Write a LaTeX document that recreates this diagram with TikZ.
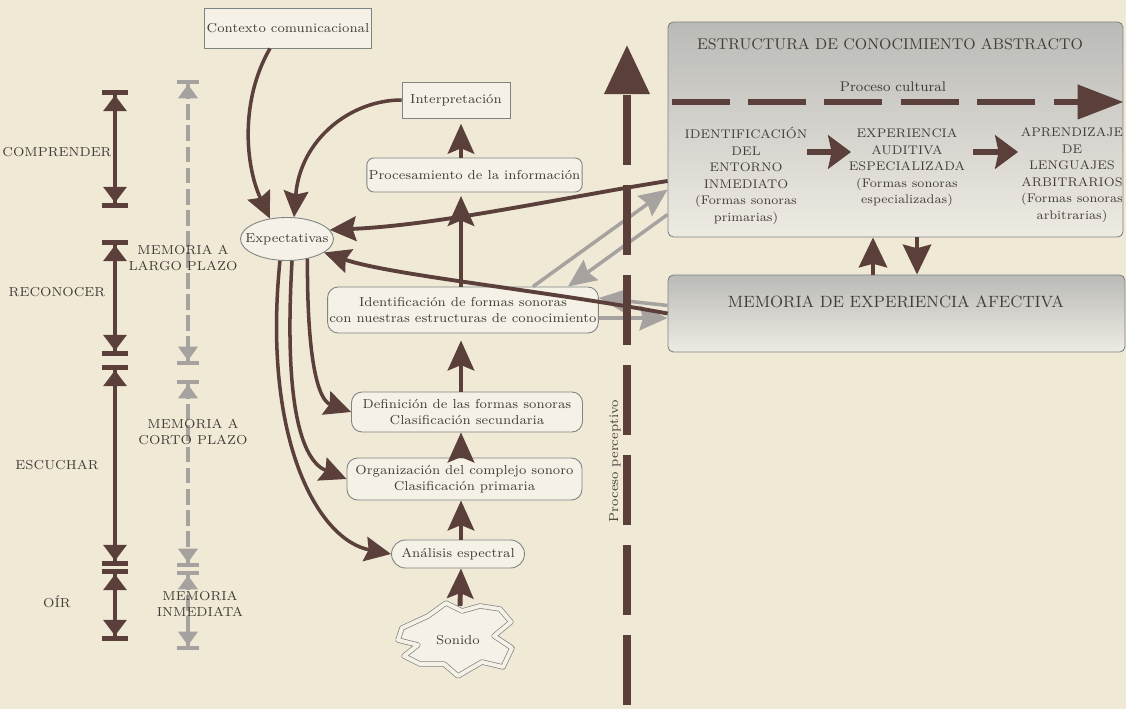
\documentclass[tikz,border=0pt]{standalone}
\usepackage{tikz}
\usetikzlibrary{arrows.meta,shapes.geometric}

\definecolor{paper}{RGB}{240,233,214}
\definecolor{boxfill}{RGB}{245,241,230}
\definecolor{boxline}{RGB}{125,132,132}
\definecolor{brownarr}{RGB}{90,63,59}
\definecolor{grayarr}{RGB}{166,162,159}
\definecolor{inktext}{RGB}{66,60,56}
\definecolor{shadetop}{RGB}{186,186,183}
\definecolor{shadebot}{RGB}{238,235,226}

\tikzset{
  txt/.style={text=inktext, font=\fontsize{7.4}{9.4}\selectfont, align=center, inner sep=1pt},
  coltxt/.style={txt, font=\fontsize{7.1}{9.4}\selectfont},
  bigcap/.style={txt, font=\fontsize{8.8}{10}\selectfont},
  plainbox/.style={txt, draw=boxline, fill=boxfill, line width=0.5pt},
  roundbox/.style={plainbox, rounded corners=6pt},
  shadebox/.style={draw=boxline, line width=0.5pt, rounded corners=3pt, top color=shadetop, bottom color=shadebot},
  upflow/.style={draw=brownarr, line width=2.8pt, -{Stealth[length=17pt,width=15pt,inset=3pt]}},
  stepflow/.style={draw=brownarr, line width=3.2pt, -{Stealth[length=13pt,width=19pt,inset=2pt]}},
  feedback/.style={draw=brownarr, line width=2pt, -{Stealth[length=15pt,width=14pt,inset=2pt]}},
  grayflow/.style={draw=grayarr, line width=2pt, -{Stealth[length=16pt,width=14pt,inset=2pt]}},
  stage/.style={draw=brownarr, line width=2pt,
    {Bar[width=15pt,line width=3pt]Triangle[length=9pt,width=13pt]}-{Triangle[length=9pt,width=13pt]Bar[width=15pt,line width=3pt]}},
  memspan/.style={draw=grayarr, line width=1.8pt, dash pattern=on 9pt off 3pt,
    {Bar[width=13pt,line width=2.5pt]Triangle[length=8pt,width=11pt]}-{Triangle[length=8pt,width=11pt]Bar[width=13pt,line width=2.5pt]}},
}

\begin{document}
\begin{tikzpicture}[x=0.02cm, y=-0.02cm, >=Stealth]
\useasboundingbox (0,0) rectangle (1126,709);
\fill[paper] (0,0) rectangle (1126,709);

% left scale: levels of listening
\foreach \ytop/\ybot/\lab/\ylab [count=\i] in {90/208/COMPRENDER/152, 240/356/RECONOCER/292, 365/566/ESCUCHAR/465, 569/641/OÍR/602}{
  \draw[stage] (115,\ytop) -- (115,\ybot);
  \node[txt] (level\i) at (57,\ylab) {\lab};
}

% memory spans, gray dashed
\foreach \ytop/\ybot [count=\i] in {80/365, 380/567, 571/650}
  \draw[memspan] (188,\ytop) -- (188,\ybot);
\node[txt] (memlarga) at (183,258) {MEMORIA A\\LARGO PLAZO};
\node[txt] (memcorta) at (193,432) {MEMORIA A\\CORTO PLAZO};
\node[txt] (meminm) at (200,604) {MEMORIA\\INMEDIATA};

% central column
\node[plainbox, minimum width=3.26cm, minimum height=0.8cm] (ctx) at (288,28) {Contexto comunicacional};
\node[plainbox, minimum width=2.16cm, minimum height=0.72cm] (interp) at (456,100) {Interpretación};
\node[roundbox, rounded corners=4pt, minimum width=4.1cm, minimum height=0.68cm] (proc) at (474.5,175) {Procesamiento de la información};
\node[txt, ellipse, draw=boxline, fill=boxfill, line width=0.5pt, inner xsep=-6pt, inner ysep=3pt, minimum width=1.86cm, minimum height=0.86cm] (expect) at (287,239) {Expectativas};
\node[roundbox, minimum width=5.4cm, minimum height=0.92cm] (ident) at (463,310) {Identificación de formas sonoras\\con nuestras estructuras de conocimiento};
\node[roundbox, minimum width=4.62cm, minimum height=0.8cm] (defin) at (467,412) {Definición de las formas sonoras\\Clasificación secundaria};
\node[roundbox, minimum width=4.7cm, minimum height=0.84cm] (organ) at (464.5,479) {Organización del complejo sonoro\\Clasificación primaria};
\node[roundbox, rounded corners=8pt, minimum width=2.66cm, minimum height=0.56cm] (anal) at (458,554) {Análisis espectral};

% sound blob
\draw[draw=boxline, line width=0.4pt, double=boxfill, double distance=2.2pt, fill=boxfill, line join=round]
  (402,628) -- (428,616) -- (446,603) -- (462,611) -- (480,606) -- (500,609) -- (511,622) -- (494,636)
  -- (512,648) -- (503,667) -- (482,662) -- (458,676) -- (444,664) -- (420,664) -- (404,656) -- (418,645)
  -- (398,640) -- cycle;
\node[txt] (sonido) at (458,640) {Sonido};
\coordinate (sonidotop) at (460,606);
\coordinate (colx) at (461,0);

% bottom-up flow
\draw[upflow] (sonidotop) -- (anal.south -| colx);
\draw[upflow] (anal.north -| colx) -- (organ.south -| colx);
\draw[upflow] (organ.north -| colx) -- (defin.south -| colx);
\draw[upflow, shorten >=4pt] (defin.north -| colx) -- (ident.south -| colx);
\draw[upflow, shorten >=2pt] (ident.north -| colx) -- (proc.south -| colx);
\draw[upflow, shorten >=3pt] (proc.north -| colx) -- (interp.south -| colx);

% into and out of Expectativas
\draw[feedback] ([xshift=-0.36cm]ctx.south) .. controls (240,100) and (245,165) .. (expect.130);
\draw[feedback] (interp.west) .. controls (350,100) and (300,140) .. (expect.72);
\draw[feedback] (expect.-44) .. controls (307,360) and (318,400) .. (defin.west);
\draw[feedback] (expect.-77) .. controls (284,400) and (300,460) .. (organ.west);
\draw[feedback] (expect.-108) .. controls (262,440) and (318,540) .. (anal.west);

% right boxes
\node[shadebox, minimum width=9.1cm, minimum height=4.3cm] (estr) at (895.5,129.5) {};
\node[shadebox, minimum width=9.14cm, minimum height=1.54cm] (memo) at (896.5,313.5) {};
\node[bigcap] (estrtitle) at (890,44) {ESTRUCTURA DE CONOCIMIENTO ABSTRACTO};
\node[txt, font=\fontsize{8}{10}\selectfont] (cultlab) at (893,87) {Proceso cultural};
\node[coltxt] (col1) at (746,176) {IDENTIFICACIÓN\\DEL\\ENTORNO\\INMEDIATO\\(Formas sonoras\\primarias)};
\node[coltxt] (col2) at (907,168) {EXPERIENCIA\\AUDITIVA\\ESPECIALIZADA\\(Formas sonoras\\especializadas)};
\node[coltxt] (col3) at (1072,175) {APRENDIZAJE\\DE\\LENGUAJES\\ARBITRARIOS\\(Formas sonoras\\arbitrarias)};
\node[bigcap, font=\fontsize{9.3}{11}\selectfont] (memotitle) at (896,302) {MEMORIA DE EXPERIENCIA AFECTIVA};

% cultural process
\coordinate (cult) at (0,102);
\draw[draw=brownarr, line width=3.4pt, dash pattern=on 33pt off 10.5pt, -{Stealth[length=26pt,width=19pt,inset=0pt]}]
  ([xshift=0.08cm]estr.west |- cult) -- (estr.east |- cult);
\coordinate (step1a) at (807,152);
\coordinate (step1b) at (851,152);
\coordinate (step2a) at (973,152);
\coordinate (step2b) at (1018,152);
\draw[stepflow] (step1a) -- (step1b);
\draw[stepflow] (step2a) -- (step2b);

% between the right boxes
\coordinate (upx) at (873,0);
\coordinate (dnx) at (917,0);
\draw[draw=brownarr, line width=2.5pt, -{Stealth[length=17pt,width=16pt,inset=2pt]}] (memo.north -| upx) -- (estr.south -| upx);
\draw[draw=brownarr, line width=2.5pt, -{Stealth[length=17pt,width=16pt,inset=2pt]}] (estr.south -| dnx) -- (memo.north -| dnx);

% exchanges with the right boxes
\draw[grayflow] ([xshift=1.4cm]ident.north) -- ([yshift=-1.2cm]estr.west);
\draw[grayflow] ([yshift=-1.7cm]estr.west) -- ([xshift=2.1cm]ident.north);
\draw[grayflow] ([yshift=-0.16cm]ident.east) -- ([yshift=-0.09cm]memo.west);
\draw[grayflow] ([yshift=0.16cm]memo.west) -- ([yshift=0.24cm]ident.east);
\draw[feedback, line width=2.2pt] ([yshift=-1.03cm]estr.west) .. controls (560,198) and (440,225) .. (expect.12);
\draw[feedback, line width=2.2pt] (memo.west) .. controls (540,290) and (390,275) .. (expect.-20);

% perceptual process
\coordinate (axbot) at (627,705);
\coordinate (axtop) at (627,45);
\draw[draw=brownarr, line width=4.5pt, dash pattern=on 39.8pt off 11.4pt, -{Stealth[length=28pt,width=25pt,inset=0pt]}]
  (axbot) -- (axtop);
\node[txt, rotate=90] (percep) at (615,461) {Proceso perceptivo};
\end{tikzpicture}
\end{document}
